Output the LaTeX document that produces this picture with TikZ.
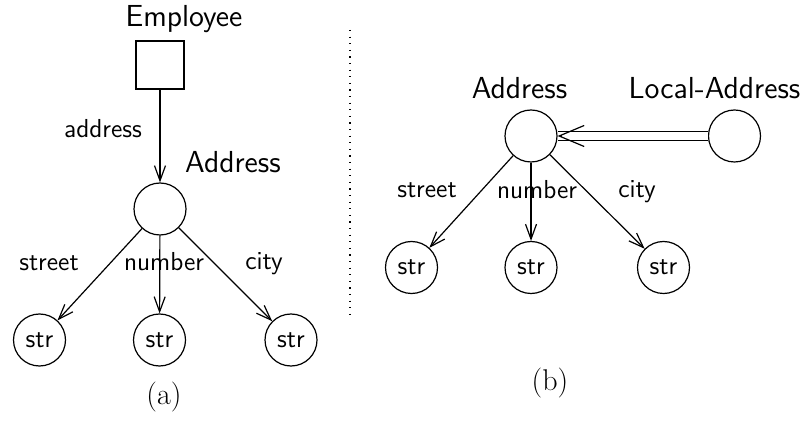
\documentclass[tikz,border=0pt]{standalone}
\usetikzlibrary{arrows.meta, positioning}

\begin{document}
\begin{tikzpicture}[
    x=0.5pt, y=-0.5pt,
    every node/.style={inner sep=0pt},
    big/.style={font=\sffamily\fontsize{15.2}{18}\selectfont},
    lbl/.style={font=\sffamily\fontsize{13}{15}\selectfont},
    obj/.style={draw, circle, minimum size=26pt, line width=0.6pt,
                font=\sffamily\fontsize{13}{15}\selectfont},
    entity/.style={draw, rectangle, minimum size=24pt, line width=0.6pt},
    link/.style={-{Straight Barb[length=7.5pt, width=5.5pt]}, line width=0.6pt},
    caption/.style={font=\fontsize{15}{18}\selectfont}
]
\useasboundingbox (0,0) rectangle (806,421);

% (a) Employee with an address
\node[entity] (emp) at (160,65) {};
\node[big] (empname) at (184,19) {Employee};
\node[obj] (addrA) at (160,209) {};
\node[big] (addrAname) at (233,162) {Address};
\node[obj] (strA1) at (39.5,340) {str};
\node[obj] (strA2) at (159.5,340) {str};
\node[obj] (strA3) at (291,340) {str};

\node[lbl] (addrlbl) at (103,129) {address};
\node[lbl] (streetA) at (49,263) {street};
\node[lbl] (numberA) at (164,262) {number};
\node[lbl] (cityA) at (264,264) {city};

\draw[link] (emp) -- (addrA);
\draw[link] (addrA) -- (strA1);
\draw[link] (addrA) -- (strA2);
\draw[link] (addrA) -- (strA3);

\node[caption] (capA) at (164,397) {(a)};

% separator
\draw[line width=0.6pt, dash pattern=on 0.6pt off 2.7pt] (350,30) -- (350,320);

% (b) Local-Address is an Address
\node[obj] (addrB) at (531,136) {};
\node[big] (addrBname) at (519.5,88.5) {Address};
\node[obj] (locB) at (734.5,136) {};
\node[big] (locBname) at (714.5,88.5) {Local-Address};
\node[obj] (strB1) at (411.5,267.5) {str};
\node[obj] (strB2) at (531,267.5) {str};
\node[obj] (strB3) at (663.5,267.5) {str};

\node[lbl] (streetB) at (427,190) {street};
\node[lbl] (numberB) at (537,190) {number};
\node[lbl] (cityB) at (637,192) {city};

\draw[line width=0.6pt, double, double distance=4pt] (locB) -- (addrB);
\draw[line width=0.6pt, -{Straight Barb[length=12.5pt, width=10.5pt]}]
    ([xshift=2pt]addrB.east) -- (addrB.east);
\draw[link] (addrB) -- (strB1);
\draw[link] (addrB) -- (strB2);
\draw[link] (addrB) -- (strB3);

\node[caption] (capB) at (550,383) {(b)};
\end{tikzpicture}
\end{document}
